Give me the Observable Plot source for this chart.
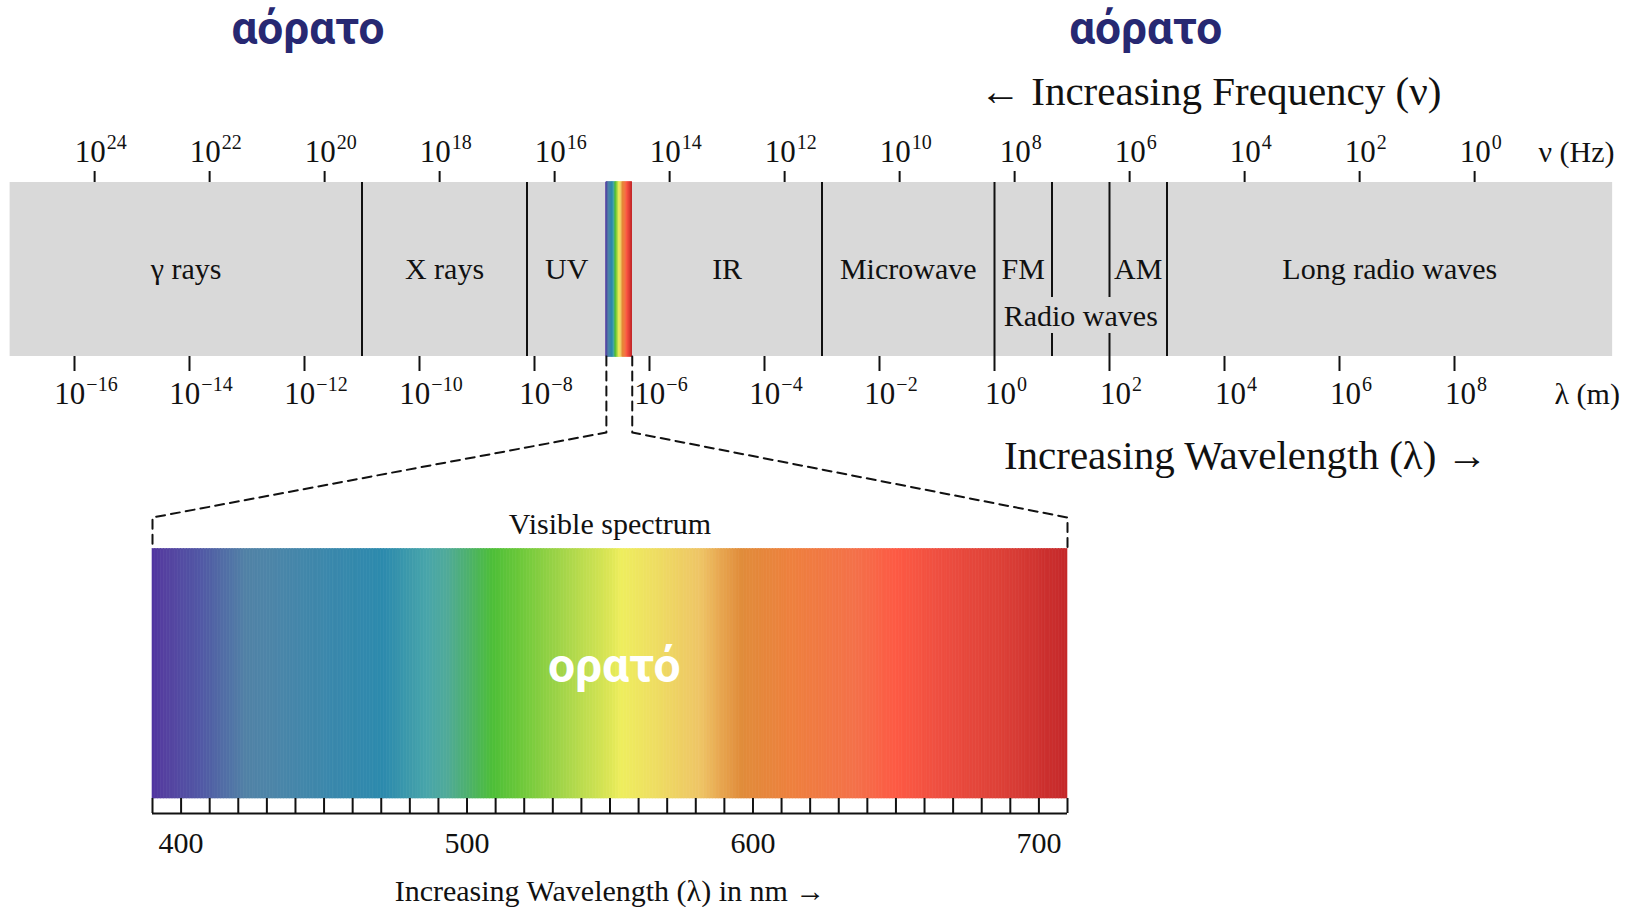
<!DOCTYPE html>
<html><head><meta charset="utf-8">
<script src="https://cdn.jsdelivr.net/npm/d3@7"></script>
<script src="https://cdn.jsdelivr.net/npm/@observablehq/plot@0.6"></script>
<style>
body{margin:0;background:#fff;}
#wrap{position:relative;width:1632px;height:907px;overflow:hidden;}
#wrap svg{position:absolute;left:0;top:0;max-width:none;}
</style></head><body><div id="wrap"></div>
<script>
// ---------------- data ----------------
const bandNames  = ["γ rays", "X rays", "UV", "IR", "Microwave", "FM", "AM", "Long radio waves"];
const bandStart  = [-17.12, -11, -8.13, -6.30, -3, 0, 2, 3];      // log10 λ (m)
const bandEnd    = [-11, -8.13, -6.75, -3, 0, 1, 3, 10.75];
const fullBoundaries   = [-11, -8.13, -3, 0, 3];
const brokenBoundaries = [1, 2];
const groupName  = ["Radio waves"];
const groupStart = [0];
const groupEnd   = [3];
const visibleLog = [-6.75, -6.30];                                 // visible strip on the log axis
const wavelengthExp = [-16, -14, -12, -10, -8, -6, -4, -2, 0, 2, 4, 6, 8];
const frequencyExp  = [24, 22, 20, 18, 16, 14, 12, 10, 8, 6, 4, 2, 0];
const freqOffset = 8.35;                                           // log10 λ = 8.35 − log10 ν as drawn
const visibleNm = [390, 710];
const nmTickStep = 10;
const nmLabels = [400, 500, 600, 700];
const spectrumNm    = [390, 394, 407, 423, 431, 453, 471, 486, 493, 500, 509, 518, 535, 550, 554, 567, 582, 588, 596, 614, 637, 650, 666, 690, 710];
const spectrumColor = ["#5033a0","#5540a0","#5158a5","#5182a6","#4d85a8","#3a88ac","#2c8aad","#48a5aa","#50aa9a","#4db070","#4dbe38","#6ac83a","#a8d64a","#dce655","#eeee5e","#eedc62","#eec466","#e8aa52","#e08c3a","#ee803e","#f4704a","#fd5a44","#ee4e40","#da3e36","#c4282a"];
const invisibleWord = "αόρατο";
const visibleWord = "ορατό";
const invisibleAt = [-11.94, 2.63];

// ---------------- layout ----------------
const W = 1632, H = 907;
const serif = "Liberation Serif, Times New Roman, serif";
const sans = "Roboto, Open Sans, sans-serif";
const L = {
  bandTop: 182, bandBottom: 356, gapTop: 297, gapBottom: 333,
  topTick: 171, botTick: 371,
  topLabel: 161, topSup: 148, botLabel: 403, botSup: 390,
  bandText: 278, groupText: 325,
  freqTitle: 104, waveTitle: 468, invisible: 43,
  connKnee: 432, connFoot: 517,
  specTop: 548.5, specBottom: 798, tickBottom: 813, nmLabel: 852, nmTitle: 900,
  visTitle: 533, visWord: 681
};
const tickFont = 31, supFont = 20;
const xDomainA = [-994 / 57.5, (W - 994) / 57.5];
const pxPerDecade = W / (xDomainA[1] - xDomainA[0]);
const xRangeB = [152, 1067];
const yIdentity = {domain: [0, H], range: [0, H], axis: null};
const colorOpts = {type: "linear", domain: spectrumNm, range: spectrumColor, interpolate: "rgb"};

// map between the two x scales (for the dashed zoom connector)
const xA = d3.scaleLinear(xDomainA, [0, W]);
const xB = d3.scaleLinear(visibleNm, xRangeB);
const lamAt = nm => xA.invert(xB(nm));

const cells = d3.range(visibleNm[0], visibleNm[1], 1);
const nmToLog = nm => visibleLog[0] + (nm - visibleNm[0]) / (visibleNm[1] - visibleNm[0]) * (visibleLog[1] - visibleLog[0]);
const sup = e => (e < 0 ? "\u2212" + (-e) : String(e));
// approximate label widths (serif digits 0.5em, minus 0.564em) to center "10^e" on its tick
const supWidth = e => String(Math.abs(e)).length * 0.5 * supFont + (e < 0 ? 0.564 * supFont : 0);
const labelWidth = e => tickFont + 1 + supWidth(e);
const baseX = (tick, e, shift) => tick + (shift - labelWidth(e) / 2) / pxPerDecade;
const expX  = (tick, e, shift) => tick + (shift - labelWidth(e) / 2 + tickFont + 1) / pxPerDecade;

const bands = bandNames.map((name, i) => ({name, start: bandStart[i], end: bandEnd[i]}));
const groups = groupName.map((name, i) => ({name, start: groupStart[i], end: groupEnd[i]}));
const connector = [];
[[visibleLog[0], visibleNm[0]], [visibleLog[1], visibleNm[1]]].forEach(([lg, nm], k) => {
  connector.push({k, x: lg, y: L.bandBottom}, {k, x: lg, y: L.connKnee},
                 {k, x: lamAt(nm), y: L.connFoot}, {k, x: lamAt(nm), y: L.specTop});
});

const txt = {fontFamily: serif, fill: "#111", lineAnchor: "bottom"};
const topShift = 6, botShift = 11.5;

const plotA = Plot.plot({
  width: W, height: H, margin: 0,
  x: {domain: xDomainA, range: [0, W], axis: null},
  y: yIdentity,
  color: colorOpts,
  marks: [
    Plot.text(invisibleAt, {x: d => d, y: L.invisible, text: () => invisibleWord, fontFamily: sans, fontWeight: 700, fontSize: 46, fill: "#272872", lineAnchor: "bottom"}),
    Plot.text(["\u2190 Increasing Frequency (\u03bd)"], {x: 3.76, y: L.freqTitle, text: d => d, fontSize: 41, ...txt}),
    Plot.text(["Increasing Wavelength (\u03bb) \u2192"], {x: 4.37, y: L.waveTitle, text: d => d, fontSize: 41, ...txt}),
    Plot.rect([bandStart[0]], {x1: bandStart[0], x2: bandEnd[bandEnd.length - 1], y1: L.bandTop, y2: L.bandBottom, fill: "#d9d9d9"}),
    Plot.rect(cells, {x1: d => nmToLog(d), x2: d => nmToLog(d + 1), y1: L.bandTop, y2: L.bandBottom, fill: d => d + 0.5, stroke: d => d + 0.5, strokeWidth: 0.5}),
    Plot.ruleX(fullBoundaries, {y1: L.bandTop, y2: L.bandBottom, stroke: "#111", strokeWidth: 2}),
    Plot.ruleX(brokenBoundaries, {y1: L.bandTop, y2: L.gapTop, stroke: "#111", strokeWidth: 2}),
    Plot.ruleX(brokenBoundaries, {y1: L.gapBottom, y2: L.bandBottom, stroke: "#111", strokeWidth: 2}),
    Plot.text(bands, {x: d => (d.start + d.end) / 2, y: L.bandText, text: "name", fontSize: 30, ...txt}),
    Plot.text(groups, {x: d => (d.start + d.end) / 2, y: L.groupText, text: "name", fontSize: 30, ...txt}),
    // frequency axis (top)
    Plot.ruleX(frequencyExp, {x: e => freqOffset - e, y1: L.topTick, y2: L.bandTop, stroke: "#111", strokeWidth: 2}),
    Plot.text(frequencyExp, {x: e => baseX(freqOffset - e, e, topShift), y: L.topLabel, text: () => "10", textAnchor: "start", fontSize: tickFont, ...txt}),
    Plot.text(frequencyExp, {x: e => expX(freqOffset - e, e, topShift), y: L.topSup, text: sup, textAnchor: "start", fontSize: supFont, ...txt}),
    Plot.text(["\u03bd (Hz)"], {x: 9.46, y: L.topLabel, text: d => d, textAnchor: "start", fontSize: 30, ...txt}),
    // wavelength axis (bottom)
    Plot.ruleX(wavelengthExp, {x: e => e, y1: L.bandBottom, y2: L.botTick, stroke: "#111", strokeWidth: 2}),
    Plot.text(wavelengthExp, {x: e => baseX(e, e, botShift), y: L.botLabel, text: () => "10", textAnchor: "start", fontSize: tickFont, ...txt}),
    Plot.text(wavelengthExp, {x: e => expX(e, e, botShift), y: L.botSup, text: sup, textAnchor: "start", fontSize: supFont, ...txt}),
    Plot.text(["\u03bb (m)"], {x: 9.74, y: L.botLabel, text: d => d, textAnchor: "start", fontSize: 30, ...txt}),
    // dashed zoom connector
    Plot.line(connector, {x: "x", y: "y", z: "k", stroke: "#111", strokeWidth: 2, strokeDasharray: "9,6"})
  ]
});

const plotB = Plot.plot({
  width: W, height: H, margin: 0,
  style: {background: "transparent"},
  x: {domain: visibleNm, range: xRangeB, axis: null},
  y: yIdentity,
  color: colorOpts,
  marks: [
    Plot.text(["Visible spectrum"], {x: 550, y: L.visTitle, text: d => d, fontSize: 30, ...txt}),
    Plot.rect(cells, {x1: d => d, x2: d => d + 1, y1: L.specTop, y2: L.specBottom, fill: d => d + 0.5, stroke: d => d + 0.5, strokeWidth: 0.6}),
    Plot.ruleX(d3.range(visibleNm[0], visibleNm[1] + 1, nmTickStep), {y1: L.specBottom, y2: L.tickBottom, stroke: "#111", strokeWidth: 2}),
    Plot.ruleY([L.tickBottom], {x1: visibleNm[0], x2: visibleNm[1], stroke: "#111", strokeWidth: 2}),
    Plot.text(nmLabels, {x: d => d, y: L.nmLabel, text: d => String(d), fontSize: 30, ...txt}),
    Plot.text(["Increasing Wavelength (\u03bb) in nm \u2192"], {x: 550, y: L.nmTitle, text: d => d, fontSize: 30, ...txt}),
    Plot.text([visibleWord], {x: 551.5, y: L.visWord, text: d => d, fontFamily: sans, fontWeight: 700, fontSize: 48, fill: "#ffffff", lineAnchor: "bottom"})
  ]
});

const wrap = document.getElementById("wrap");
wrap.appendChild(plotA);
wrap.appendChild(plotB);
</script></body></html>
